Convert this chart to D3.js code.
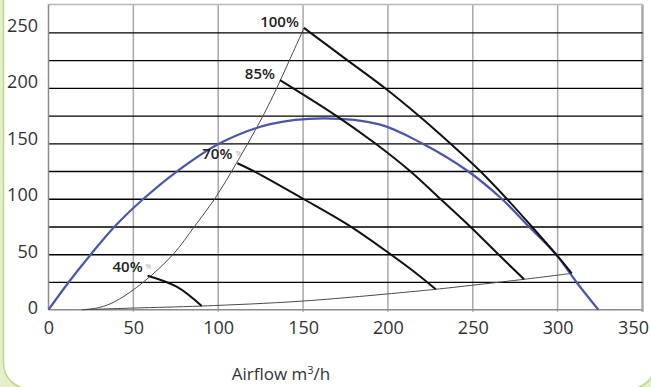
<!DOCTYPE html>
<html>
<head>
<meta charset="utf-8">
<script src="https://cdn.jsdelivr.net/npm/d3@7"></script>
<style>
  body { margin: 0; background: #fff; }
  svg { display: block; font-family: "Open Sans", "DejaVu Sans", sans-serif; }
</style>
</head>
<body>
<div id="chart"></div>
<script>
  // Values (airflow m3/h, pressure Pa)
  const xTicks = [0, 50, 100, 150, 200, 250, 300, 350];
  const yTicks = [0, 50, 100, 150, 200, 250];
  const gridY = [25, 50, 75, 100, 125, 150, 175, 200, 225, 250];

  // blue limit curve
  const limitCurve = [[0, 0], [12, 25], [25, 50], [39, 75], [56, 100], [76, 125], [101, 150],
    [130, 167], [162, 172.5], [195, 167], [220, 150], [247, 125], [267, 100], [283, 75],
    [299, 50], [311, 25], [324, 0]];

  // thin system curves
  const upperSystem = [[20, 0], [30, 2], [40, 8], [56, 25], [73.5, 50], [86, 75], [98, 100],
    [108, 125], [117.5, 150], [126.5, 175], [134.6, 200], [142, 225], [149.4, 250], [150.5, 254]];
  const lowerSystem = [[20, 0], [50, 1.5], [90.3, 3.3], [150, 7.8], [219, 17], [228.2, 18.4],
    [280.2, 27.4], [308.3, 32.8]];

  // fan curves
  const fanLabels = ['100%', '85%', '70%', '40%'];
  const fan100 = [[150.5, 254], [176, 225], [198, 200], [218, 175], [236.6, 150], [254.3, 125],
    [270, 100], [284.7, 75], [299, 50], [308.3, 32.8]];
  const fan85 = [[136.4, 207], [169.4, 175], [192.4, 150], [213, 125], [230.8, 100], [248.4, 75],
    [265, 50], [280.2, 27.4]];
  const fan70 = [[111.3, 132], [122, 124], [150, 100], [177, 76], [201.5, 50], [219, 30],
    [228.2, 18.4]];
  const fan40 = [[58.4, 30.6], [75.5, 20.7], [90.3, 3.3]];
  const fanCurves = [fan100, fan85, fan70, fan40];

  const W = 651, H = 387;

  const svg = d3.select('#chart')
    .append('svg')
    .attr('width', W)
    .attr('height', H);

  // frame
  svg.append('rect')
    .attr('width', W).attr('height', H)
    .attr('fill', '#e4efcb');
  svg.append('rect')
    .attr('x', 3.5).attr('y', -40)
    .attr('width', 652).attr('height', 429)
    .attr('rx', 26)
    .attr('fill', '#fff')
    .attr('stroke', '#bdd78c')
    .attr('stroke-width', 1.5);

  const x = d3.scaleLinear().domain([0, 350]).range([48.5, 642.5]);
  const y = d3.scaleLinear().domain([0, 275]).range([309.7, 4.6]);
  // tick labels sit a little off the gridlines in the original
  const yLab = d3.scaleLinear().domain([0, 250]).range([308, 25.7]);

  // vertical grid
  svg.selectAll('.vgrid')
    .data(xTicks.slice(1))
    .enter()
    .append('line')
    .attr('class', 'vgrid')
    .attr('x1', d => x(d)).attr('x2', d => x(d))
    .attr('y1', y(275)).attr('y2', y(0) + 2)
    .attr('stroke', '#a8a8a8')
    .attr('stroke-width', d => d === 350 ? 2.5 : 1.5);

  // top border
  svg.append('line')
    .attr('x1', x(0)).attr('x2', x(350))
    .attr('y1', y(275)).attr('y2', y(275))
    .attr('stroke', '#b8b8b8')
    .attr('stroke-width', 1.5);

  // horizontal grid
  svg.append('g')
    .attr('transform', `translate(${x(0)},0)`)
    .call(d3.axisLeft(y).tickValues(gridY).tickSize(-(x(350) - x(0))).tickFormat(''))
    .call(g => g.select('.domain').remove())
    .call(g => g.selectAll('line').attr('stroke', '#000').attr('stroke-width', 1.3));

  // axes lines
  svg.append('line')
    .attr('x1', x(0)).attr('x2', x(0))
    .attr('y1', y(275)).attr('y2', y(0))
    .attr('stroke', '#8a8a8a').attr('stroke-width', 1.5);
  svg.append('line')
    .attr('x1', x(0)).attr('x2', x(350))
    .attr('y1', y(0)).attr('y2', y(0))
    .attr('stroke', '#8a8a8a').attr('stroke-width', 1.5);

  // x tick labels
  svg.append('g')
    .attr('transform', `translate(0,${y(0)})`)
    .call(d3.axisBottom(x).tickValues(xTicks).tickSize(0).tickPadding(12))
    .call(g => g.select('.domain').remove())
    .call(g => g.selectAll('text')
      .attr('fill', '#333')
      .style('font-size', '18px')
      .style('font-family', '"Open Sans", sans-serif'))
    // last label is pulled inside the frame
    .call(g => g.selectAll('.tick')
      .filter(d => d === 350)
      .select('text')
      .attr('text-anchor', 'end')
      .attr('dx', 6));

  // y tick labels
  svg.append('g')
    .attr('transform', 'translate(38,0)')
    .call(d3.axisLeft(yLab).tickValues(yTicks).tickSize(0).tickPadding(0))
    .call(g => g.select('.domain').remove())
    .call(g => g.selectAll('text')
      .attr('fill', '#333')
      .style('font-size', '18px')
      .style('font-family', '"Open Sans", sans-serif'));

  const line = d3.line()
    .x(d => x(d[0]))
    .y(d => y(d[1]))
    .curve(d3.curveCatmullRom.alpha(0.5));

  // thin system curves
  [upperSystem, lowerSystem].forEach(pts => {
    svg.append('path')
      .datum(pts)
      .attr('fill', 'none')
      .attr('stroke', '#4a4a4a')
      .attr('stroke-width', 1)
      .attr('d', line);
  });

  // blue limit curve
  svg.append('path')
    .datum(limitCurve)
    .attr('fill', 'none')
    .attr('stroke', '#4a56a8')
    .attr('stroke-width', 2.2)
    .attr('d', line);

  // fan curves
  svg.selectAll('.fan')
    .data(fanCurves)
    .enter()
    .append('path')
    .attr('class', 'fan')
    .attr('fill', 'none')
    .attr('stroke', '#111')
    .attr('stroke-width', 2)
    .attr('d', line);

  // fan labels
  svg.selectAll('.fan-label')
    .data(fanCurves)
    .enter()
    .append('text')
    .attr('class', 'fan-label')
    .attr('x', d => x(d[0][0]) - 5)
    .attr('y', (d, i) => y(d[0][1]) - (i < 2 ? 1 : 4))
    .attr('text-anchor', 'end')
    .attr('fill', '#222')
    .style('font-size', '15px')
    .style('font-weight', 600)
    .text((d, i) => fanLabels[i]);

  // faint ghost "%" marks next to the lower labels
  svg.selectAll('.ghost')
    .data(fanCurves.slice(2))
    .enter()
    .append('text')
    .attr('class', 'ghost')
    .attr('x', d => x(d[0][0]) - 2)
    .attr('y', d => y(d[0][1]) - 7)
    .attr('fill', '#aaa')
    .style('font-size', '7px')
    .text('%');

  // axis title
  const title = svg.append('text')
    .attr('x', 281)
    .attr('y', 380)
    .attr('text-anchor', 'middle')
    .attr('fill', '#333')
    .style('font-size', '17px');
  title.append('tspan').text('Airflow m');
  title.append('tspan').attr('dy', -6).style('font-size', '11px').text('3');
  title.append('tspan').attr('dy', 6).text('/h');
</script>
</body>
</html>
